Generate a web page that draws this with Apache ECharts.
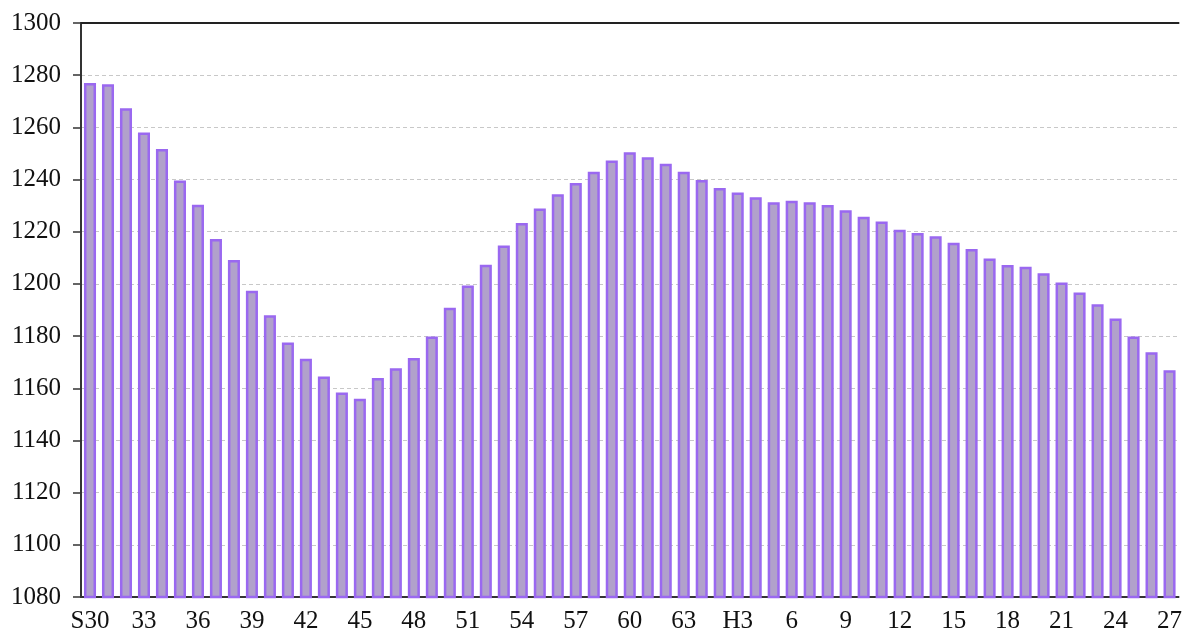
<!DOCTYPE html>
<html>
<head>
<meta charset="utf-8">
<script src="https://cdn.jsdelivr.net/npm/echarts@6/dist/echarts.min.js"></script>
<style>
html,body{margin:0;padding:0;background:#fff;}
#chart{width:1185px;height:635px;}
</style>
</head>
<body>
<div id="chart"></div>
<script>
const showaYears = ['S30','31','32','33','34','35','36','37','38','39','40','41','42','43','44','45','46','47','48','49','50','51','52','53','54','55','56','57','58','59','60','61','62','63'];
const heiseiYears = ['1','2','H3','4','5','6','7','8','9','10','11','12','13','14','15','16','17','18','19','20','21','22','23','24','25','26','27'];
const categories = showaYears.concat(heiseiYears);

const showaValues = [1277,1276.5,1267.3,1258,1251.7,1239.6,1230.3,1217.2,1209.2,1197.4,1188,1177.5,1171.3,1164.5,1158.4,1156,1163.9,1167.7,1171.6,1179.8,1190.9,1199.4,1207.3,1214.7,1223.3,1228.9,1234.4,1238.7,1243,1247.3,1250.5,1248.5,1246.1,1243];
const heiseiValues = [1239.8,1236.8,1235,1233.2,1231.3,1231.9,1231.3,1230.2,1228.2,1225.7,1223.9,1220.8,1219.5,1218.3,1215.8,1213.4,1209.7,1207.2,1206.6,1204.1,1200.5,1196.7,1192.2,1186.7,1179.8,1173.8,1166.9];
const values = showaValues.concat(heiseiValues);

const yMin = 1080, yMax = 1300, yStep = 20;

const chart = echarts.init(document.getElementById('chart'), null, {renderer:'canvas'});
const font = 'Liberation Serif, Times New Roman, serif';
chart.setOption({
  animation:false,
  backgroundColor:'#ffffff',
  grid:{left:81, right:2, top:23, bottom:38, containLabel:false},
  xAxis:[{
    type:'category',
    data:categories,
    position:'bottom',
    axisLine:{show:true, lineStyle:{color:'#333', width:2}},
    axisTick:{show:false},
    axisLabel:{interval:2, color:'#111', fontFamily:font, fontSize:25, margin:12},
    splitLine:{show:false}
  },{
    type:'category',
    data:categories,
    position:'top',
    axisLine:{show:true, lineStyle:{color:'#222', width:2}},
    axisTick:{show:false},
    axisLabel:{show:false},
    splitLine:{show:false}
  }],
  yAxis:{
    type:'value',
    min:yMin, max:yMax, interval:yStep,
    axisLine:{show:true, lineStyle:{color:'#333', width:2}},
    axisTick:{show:true, length:8, lineStyle:{color:'#333', width:1.5}},
    axisLabel:{color:'#111', fontFamily:font, fontSize:25, margin:20, formatter:function(v){return String(v);}},
    splitLine:{show:true, lineStyle:{color:'#c8c8c8', type:[4,3], width:1}}
  },
  series:[{
    type:'bar',
    data:values,
    xAxisIndex:0,
    barWidth:'67%',
    itemStyle:{color:'#b1a1cb', borderColor:'#9a68f0', borderWidth:2.5}
  }]
});
</script>
</body>
</html>
